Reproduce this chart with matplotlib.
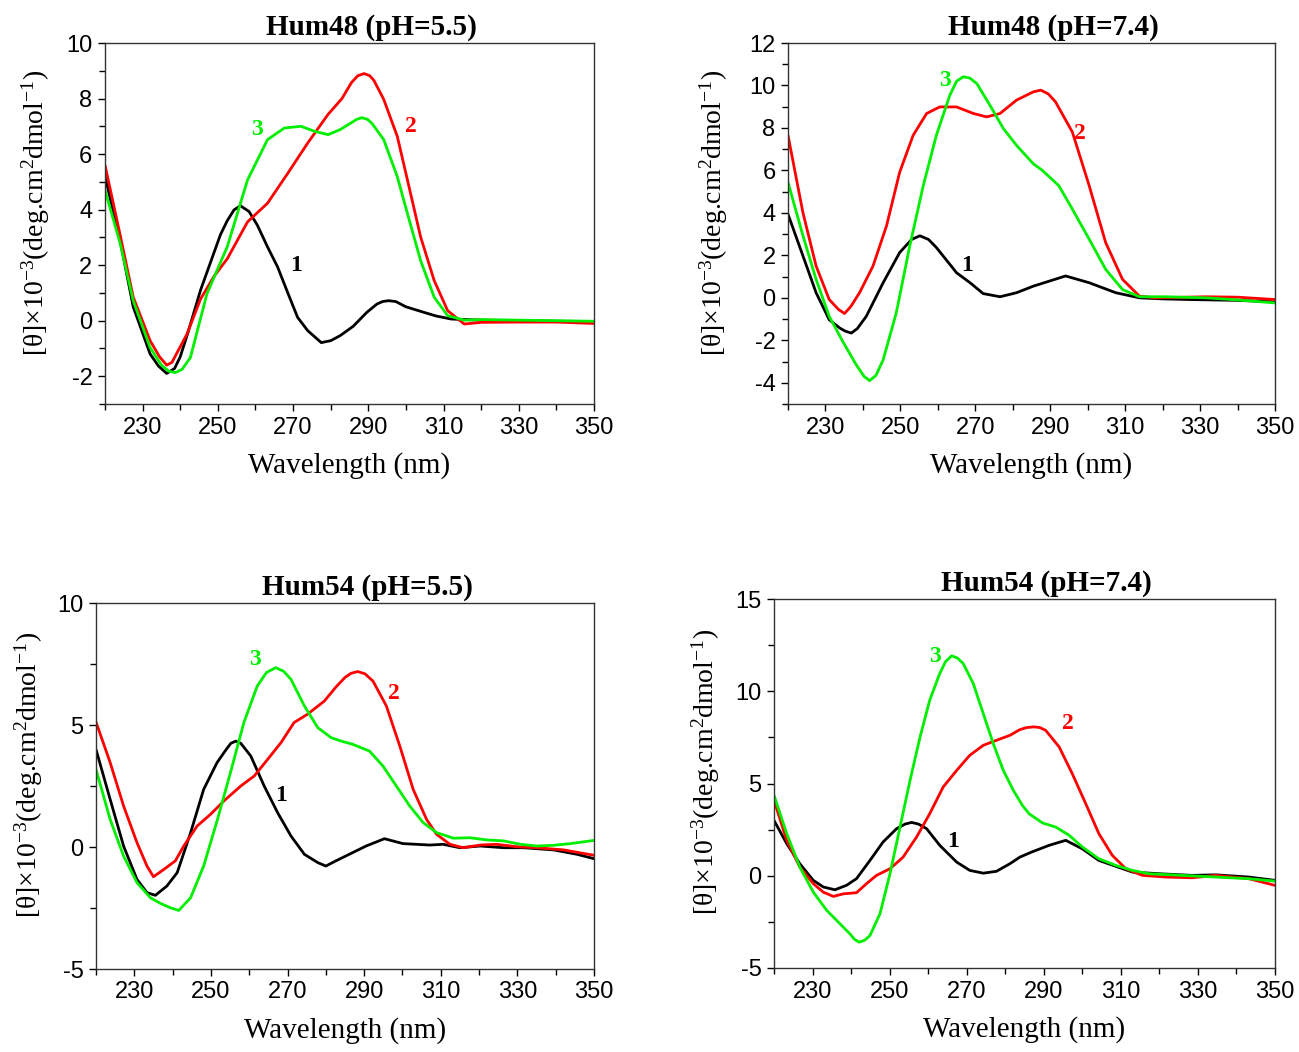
import matplotlib
matplotlib.use("Agg")
import matplotlib.pyplot as plt
from matplotlib.ticker import MultipleLocator

plt.rcParams['mathtext.fontset'] = 'custom'
plt.rcParams['mathtext.rm'] = 'Liberation Serif'
plt.rcParams['mathtext.it'] = 'Liberation Serif:italic'
plt.rcParams['mathtext.bf'] = 'Liberation Serif:bold'
plt.rcParams['axes.unicode_minus'] = False

# ---------------- data: Hum48 pH 5.5 ----------------
p1_x_1 = [220, 224, 227.5, 232, 234.2, 236.4, 238.5, 240, 242, 245.4, 250.7, 252.5, 254.3, 256, 258.3, 260.5, 263.2, 265.9, 268.6, 271.2, 273.9, 277.5, 280, 282.5, 286, 289.6, 292.3, 293.8, 295.4, 297.3, 300, 304.8, 308, 312, 320, 330, 340, 350]
p1_y_1 = [5.2, 2.9, 0.5, -1.2, -1.63, -1.9, -1.72, -1.3, -0.45, 1.1, 3.1, 3.6, 3.99, 4.14, 3.93, 3.44, 2.66, 1.93, 1.0, 0.12, -0.36, -0.79, -0.72, -0.54, -0.2, 0.3, 0.6, 0.69, 0.72, 0.69, 0.5, 0.3, 0.17, 0.06, 0.02, 0.0, -0.02, -0.03]
p1_x_2 = [220, 224, 227.5, 232, 234.5, 236.4, 237.8, 241.8, 245.4, 249, 252.5, 257.9, 263.2, 268.6, 273.9, 279.3, 283, 285.5, 287.2, 288.9, 290.4, 291.5, 294.1, 297.7, 300.4, 303.9, 307.5, 311.1, 315.5, 320, 330, 340, 350]
p1_y_2 = [5.6, 3.1, 0.85, -0.72, -1.3, -1.6, -1.5, -0.48, 0.78, 1.6, 2.23, 3.56, 4.23, 5.31, 6.4, 7.43, 8.0, 8.57, 8.82, 8.9, 8.82, 8.65, 7.97, 6.64, 5.07, 3.02, 1.45, 0.36, -0.12, -0.06, -0.05, -0.05, -0.1]
p1_x_3 = [220, 224, 227.5, 232, 235, 237, 238.7, 240.5, 242.7, 247.1, 252.5, 257.9, 263.2, 267.7, 272.1, 275.7, 279.3, 282.5, 285.5, 286.9, 288.3, 289.8, 291, 294.1, 297.7, 300.4, 303.9, 307.5, 311.1, 315.5, 320, 330, 340, 350]
p1_y_3 = [4.7, 2.8, 0.72, -0.97, -1.6, -1.82, -1.87, -1.75, -1.33, 0.97, 2.66, 5.07, 6.52, 6.94, 7.0, 6.82, 6.7, 6.88, 7.13, 7.25, 7.31, 7.25, 7.1, 6.52, 5.19, 3.86, 2.17, 0.85, 0.18, 0.02, 0.04, 0.02, 0.0, -0.02]

# ---------------- data: Hum48 pH 7.4 ----------------
p2_x_1 = [220, 224, 227.5, 231, 233.8, 235.3, 236.9, 238.5, 240.9, 245.4, 249.8, 253, 255.2, 257.5, 259.6, 265, 268.6, 272.1, 276.6, 281, 285.5, 290, 294.1, 300.4, 307.5, 313.8, 320, 327, 340, 350]
p2_y_1 = [3.94, 1.97, 0.24, -1.03, -1.42, -1.57, -1.66, -1.45, -0.87, 0.71, 2.13, 2.75, 2.92, 2.75, 2.37, 1.18, 0.71, 0.2, 0.05, 0.24, 0.55, 0.8, 1.03, 0.71, 0.24, 0.0, -0.05, -0.08, -0.12, -0.19]
p2_x_2 = [220, 224, 227.5, 231, 233.5, 235.1, 236.8, 239.1, 242.7, 246.3, 249.8, 253.4, 257, 260.5, 265, 269.5, 273, 276.6, 281, 285.5, 287.5, 289.5, 291.4, 295.9, 300.4, 304.8, 309.3, 313.8, 318.2, 331.6, 340, 350]
p2_y_2 = [7.65, 4.0, 1.5, -0.08, -0.55, -0.74, -0.4, 0.24, 1.5, 3.39, 5.91, 7.65, 8.68, 8.99, 8.99, 8.68, 8.52, 8.68, 9.31, 9.7, 9.78, 9.6, 9.23, 7.81, 5.28, 2.6, 0.87, 0.08, 0.0, 0.05, 0.03, -0.08]
p2_x_3 = [220, 224, 227.5, 231, 234.6, 238.2, 240.3, 241.8, 243.5, 245.4, 248.9, 252.5, 256.1, 259.6, 263.2, 265, 266.8, 268.5, 270.4, 273.9, 277.5, 281, 285.5, 287.9, 292.3, 295.9, 300.4, 304.8, 309.3, 313.8, 320.9, 331.6, 340, 350]
p2_y_3 = [5.44, 2.92, 0.87, -0.87, -2.05, -3.15, -3.7, -3.9, -3.65, -2.92, -0.71, 2.44, 5.28, 7.65, 9.54, 10.2, 10.41, 10.35, 10.09, 9.07, 7.97, 7.18, 6.31, 6.0, 5.28, 4.18, 2.76, 1.34, 0.39, 0.05, 0.05, 0.0, -0.1, -0.24]

# ---------------- data: Hum54 pH 5.5 ----------------
p3_x_1 = [220, 223.7, 227.2, 230.7, 233.3, 235.5, 238.5, 241.2, 244.7, 248.1, 251.6, 254, 255.2, 256.5, 257.8, 260.4, 263.9, 267.4, 270.9, 274.4, 277.9, 280, 282.6, 287, 290.5, 295.3, 300.1, 307.1, 310.6, 315, 320.3, 326.4, 331.6, 339.5, 345.6, 350]
p3_y_1 = [4.0, 1.95, 0.04, -1.33, -1.87, -1.98, -1.6, -1.05, 0.59, 2.36, 3.46, 4.0, 4.25, 4.34, 4.25, 3.73, 2.5, 1.41, 0.45, -0.3, -0.64, -0.78, -0.57, -0.23, 0.04, 0.34, 0.14, 0.08, 0.11, -0.03, 0.04, -0.03, -0.03, -0.12, -0.3, -0.48]
p3_x_2 = [220, 223.7, 227.2, 230.7, 233.3, 235, 237.7, 240.7, 242.9, 246.4, 249.9, 253.4, 257.8, 261.3, 264.8, 268.3, 271.7, 275.2, 279.6, 282.6, 285, 286.6, 288.3, 290.2, 292.3, 295.8, 299.3, 302.8, 306.3, 308.9, 312.4, 315.9, 320.3, 324.6, 329.9, 335.1, 342.1, 350]
p3_y_2 = [5.12, 3.46, 1.68, 0.18, -0.78, -1.22, -0.92, -0.57, 0.04, 0.86, 1.34, 1.89, 2.5, 2.91, 3.59, 4.28, 5.1, 5.44, 5.98, 6.55, 6.95, 7.12, 7.19, 7.1, 6.8, 5.78, 4.14, 2.36, 1.13, 0.52, 0.11, -0.03, 0.08, 0.11, 0.01, -0.03, -0.12, -0.34]
p3_x_3 = [220, 223.7, 227.2, 230.7, 234.2, 236.8, 239.4, 241.6, 244.7, 248.1, 251.6, 255.1, 258.6, 262.1, 264.5, 266.9, 269, 270.9, 274.4, 277.9, 281.4, 284, 287, 291.4, 294.9, 298.4, 301.9, 305.4, 308.9, 313.3, 317.6, 322, 326.4, 330.8, 335.1, 339.5, 343.9, 350]
p3_y_3 = [3.18, 1.13, -0.37, -1.46, -2.08, -2.31, -2.49, -2.6, -2.08, -0.78, 1.07, 3.05, 5.1, 6.6, 7.15, 7.35, 7.2, 6.87, 5.78, 4.89, 4.48, 4.34, 4.21, 3.93, 3.32, 2.5, 1.68, 1.0, 0.59, 0.36, 0.38, 0.29, 0.25, 0.11, 0.04, 0.07, 0.14, 0.27]

# ---------------- data: Hum54 pH 7.4 ----------------
p4_x_1 = [220, 223.3, 226.7, 230.2, 232.8, 235.8, 238.8, 241.4, 244.9, 248.3, 251.8, 254, 255.7, 257.5, 259.6, 263, 267.4, 270.8, 274.3, 277.7, 281.2, 283.8, 286.8, 291.4, 295.7, 300, 304.3, 308.7, 313, 319.9, 328.5, 334.6, 343.2, 350]
p4_y_1 = [3.0, 1.74, 0.65, -0.25, -0.61, -0.76, -0.52, -0.16, 0.83, 1.83, 2.55, 2.8, 2.89, 2.8, 2.55, 1.65, 0.74, 0.29, 0.14, 0.24, 0.65, 1.01, 1.28, 1.65, 1.92, 1.46, 0.83, 0.51, 0.2, 0.11, 0.02, 0.05, -0.07, -0.25]
p4_x_2 = [220, 223.3, 226.7, 230.2, 232.8, 235.4, 238, 241.4, 244, 246.6, 250.1, 253.5, 257, 260.4, 263.9, 267.4, 270.8, 274.3, 277.7, 281.2, 283.8, 285.5, 287.5, 289, 290.5, 294, 297.4, 300.9, 304.3, 307.8, 311.3, 315.6, 321.6, 328.5, 334.6, 343.2, 350]
p4_y_2 = [4.09, 1.92, 0.47, -0.43, -0.89, -1.12, -0.98, -0.92, -0.43, 0.02, 0.38, 1.01, 2.1, 3.36, 4.81, 5.71, 6.53, 7.07, 7.34, 7.61, 7.92, 8.03, 8.07, 8.03, 7.88, 6.98, 5.53, 3.9, 2.28, 1.1, 0.38, 0.02, -0.07, -0.11, 0.02, -0.16, -0.52]
p4_x_3 = [220, 223.3, 226.7, 230.2, 233.7, 237.1, 239.7, 240.9, 242.1, 243.5, 244.9, 247.5, 250.1, 252.7, 255.3, 257.9, 260.4, 263, 264.5, 266.1, 267.6, 269.1, 271.7, 274.3, 276.9, 279.5, 282.1, 284.5, 286.2, 289.7, 293.1, 296.6, 300, 304.3, 308.7, 313, 317.3, 326, 334.6, 343.2, 350]
p4_y_3 = [4.36, 2.28, 0.47, -0.89, -1.88, -2.6, -3.15, -3.45, -3.6, -3.5, -3.24, -2.06, 0.11, 2.64, 5.17, 7.52, 9.51, 10.96, 11.6, 11.92, 11.8, 11.5, 10.42, 8.79, 7.16, 5.71, 4.63, 3.8, 3.36, 2.86, 2.64, 2.19, 1.56, 0.92, 0.56, 0.29, 0.11, 0.02, -0.07, -0.16, -0.29]

titles = ["Hum48 (pH=5.5)", "Hum48 (pH=7.4)", "Hum54 (pH=5.5)", "Hum54 (pH=7.4)"]
curve_labels = ["1", "2", "3"]
colors = ["#000000", "#ff0000", "#00ee00"]
ylims = [(-3, 10), (-5, 12), (-5, 10), (-5, 15)]
ymajor = [2, 2, 5, 5]
yminor = [1, 1, 2.5, 2.5]
# anchor positions (data coords) of the curve numbers
label_pos = [
    [(270.9, 2.0), (301.4, 7.0), (260.3, 6.9)],
    [(267.9, 1.5), (297.9, 7.75), (262.0, 10.25)],
    [(268.2, 2.1), (297.7, 6.3), (261.6, 7.7)],
    [(266.5, 1.84), (296.3, 8.23), (261.8, 11.86)],
]
panels = [
    [(p1_x_1, p1_y_1), (p1_x_2, p1_y_2), (p1_x_3, p1_y_3)],
    [(p2_x_1, p2_y_1), (p2_x_2, p2_y_2), (p2_x_3, p2_y_3)],
    [(p3_x_1, p3_y_1), (p3_x_2, p3_y_2), (p3_x_3, p3_y_3)],
    [(p4_x_1, p4_y_1), (p4_x_2, p4_y_2), (p4_x_3, p4_y_3)],
]

W, H = 1299, 1052
# axes boxes in pixels: left, top, right, bottom
boxes = [(105, 43, 594, 404), (788, 43, 1275, 404), (96, 603, 594, 969), (774, 599, 1275, 968)]
ylabel_gap = [53, 58, 51, 52]

fig = plt.figure(figsize=(W / 100, H / 100), dpi=100)
serif = "Liberation Serif"
sans = "Liberation Sans"
ylabel = "[θ]×10$^{-3}$(deg.cm$^{2}$dmol$^{-1}$)"

for i, (l, t, r, b) in enumerate(boxes):
    ax = fig.add_axes([l / W, 1 - b / H, (r - l) / W, (b - t) / H])
    for (xs, ys), c in zip(panels[i], colors):
        ax.plot(xs, ys, color=c, lw=2.0, solid_joinstyle='round', solid_capstyle='round')
    ax.set_xlim(220, 350)
    ax.set_ylim(*ylims[i])
    ax.xaxis.set_minor_locator(MultipleLocator(10))
    ax.set_xticks(range(230, 351, 20))
    ax.yaxis.set_major_locator(MultipleLocator(ymajor[i]))
    ax.yaxis.set_minor_locator(MultipleLocator(yminor[i]))
    ax.tick_params(which='both', direction='out', top=False, right=False, width=1.0)
    ax.tick_params(which='major', length=5, pad=4)
    ax.tick_params(which='minor', length=4)
    for lab in ax.get_xticklabels() + ax.get_yticklabels():
        lab.set_fontfamily(sans)
        lab.set_fontsize(17)
    for s in ax.spines.values():
        s.set_linewidth(1.0)
        s.set_color("#333333")
    hpx = b - t
    wpx = r - l
    ax.set_xlabel("Wavelength (nm)", fontfamily=serif, fontsize=21)
    ax.xaxis.set_label_coords(0.5, -48 / hpx)
    ax.xaxis.label.set_va('top')
    ax.set_ylabel(ylabel, fontfamily=serif, fontsize=20)
    ax.yaxis.set_label_coords(-ylabel_gap[i] / wpx, 0.53)
    ax.text(0.5 + 22 / wpx, 1 + 2 / hpx, titles[i], transform=ax.transAxes,
            ha='center', va='bottom', fontfamily=serif, fontweight='bold', fontsize=21)
    for (lx, ly), c, txt in zip(label_pos[i], colors, curve_labels):
        ax.text(lx, ly, txt, color=c, ha='center', va='center',
                fontfamily=serif, fontweight='bold', fontsize=17)

fig.savefig("out.png", dpi=100)
